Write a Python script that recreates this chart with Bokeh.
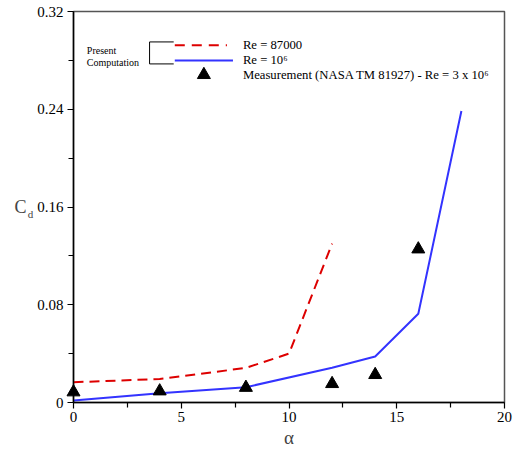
from bokeh.plotting import figure
from bokeh.models import Range1d, FixedTicker, Label, LinearAxis
from bokeh.embed import file_html
from bokeh.resources import INLINE

# --- data -----------------------------------------------------------
alpha_re87k = [0, 4, 8, 10, 12]
cd_re87k = [0.0166, 0.0192, 0.0283, 0.0400, 0.1300]

alpha_re1e6 = [0, 4, 8, 12, 14, 16, 18]
cd_re1e6 = [0.0016, 0.0076, 0.0125, 0.0285, 0.0377, 0.0726, 0.2385]

alpha_meas = [0, 4, 8, 12, 14, 16]
cd_meas = [0.0085, 0.0093, 0.0122, 0.0153, 0.0227, 0.1255]

x_ticks = [0, 5, 10, 15, 20]
y_ticks = [0, 0.08, 0.16, 0.24, 0.32]
y_tick_labels = {0: "0", 0.08: "0.08", 0.16: "0.16", 0.24: "0.24", 0.32: "0.32"}

legend_labels = ["Re = 87000", "Re = 10\u2076", "Measurement (NASA TM 81927) - Re = 3 x 10\u2076"]

FONT = "Liberation Serif"
RED = "#dd0000"
BLUE = "#3333ff"

p = figure(width=516, height=451, output_backend="svg", toolbar_location=None,
           x_range=Range1d(0, 20), y_range=Range1d(0, 0.32),
           min_border_left=73, min_border_right=12, min_border_top=11, min_border_bottom=49)
p.background_fill_color = "white"
p.border_fill_color = "white"
p.outline_line_color = "#555555"
p.outline_line_width = 1.5
p.xgrid.visible = False
p.ygrid.visible = False

for ax in (p.xaxis[0], p.yaxis[0]):
    ax.axis_line_color = "black"
    ax.axis_line_width = 1.5
    ax.major_tick_line_color = "black"
    ax.minor_tick_line_color = "black"
    ax.major_tick_line_width = 1.2
    ax.minor_tick_line_width = 1.2
    ax.major_tick_out = 6
    ax.major_tick_in = 0
    ax.minor_tick_out = 5
    ax.minor_tick_in = 0
    ax.major_label_text_font = FONT
    ax.major_label_text_font_size = "15px"
    ax.major_label_text_color = "black"

p.xaxis.ticker = FixedTicker(ticks=x_ticks, minor_ticks=[2.5, 7.5, 12.5, 17.5])
p.yaxis.ticker = FixedTicker(ticks=y_ticks, minor_ticks=[0.04, 0.12, 0.2, 0.28])
p.yaxis.major_label_overrides = y_tick_labels
p.yaxis.major_label_standoff = 4
p.xaxis.major_label_standoff = 3

p.xaxis.axis_label = "\u03b1"
p.xaxis.axis_label_text_font = FONT
p.xaxis.axis_label_text_font_style = "normal"
p.xaxis.axis_label_text_font_size = "19px"
p.xaxis.axis_label_standoff = 2

# y label: subscript "d" next to the tick labels, "C" on an outer label-only axis
yax = p.yaxis[0]
yax.axis_label = "\nd"
yax.axis_label_orientation = "horizontal"
yax.axis_label_text_font = FONT
yax.axis_label_text_font_style = "normal"
yax.axis_label_text_font_size = "11px"
yax.axis_label_standoff = 1

cax = LinearAxis(ticker=FixedTicker(ticks=[]), axis_line_color=None,
                 major_tick_line_color=None, minor_tick_line_color=None,
                 axis_label="C", axis_label_orientation="horizontal",
                 axis_label_text_font=FONT, axis_label_text_font_style="normal",
                 axis_label_text_font_size="18px", axis_label_standoff=-2,
                 major_label_text_font_size="0px")
p.add_layout(cax, "left")

# --- series ---------------------------------------------------------
p.line(alpha_re87k, cd_re87k, line_color=RED, line_width=2, line_dash="10 6")
p.line(alpha_re1e6, cd_re1e6, line_color=BLUE, line_width=2)
p.scatter(alpha_meas, cd_meas, marker="triangle", size=13, fill_color="black", line_color="black",
          level="overlay")

# --- custom legend --------------------------------------------------
p.add_layout(Label(x=0.62, y=0.2877, text="Present", text_font=FONT, text_font_size="10px",
                   text_baseline="middle", text_color="black"))
p.add_layout(Label(x=0.62, y=0.2785, text="Computation", text_font=FONT, text_font_size="10px",
                   text_baseline="middle", text_color="black"))
p.line([4.65, 3.53, 3.53, 4.65], [0.2951, 0.2951, 0.2771, 0.2771], line_color="black", line_width=1)
p.line([4.70, 7.12], [0.2924, 0.2924], line_color=RED, line_width=2, line_dash="10 7")
p.line([4.70, 7.40], [0.2799, 0.2799], line_color=BLUE, line_width=2)
p.scatter([6.05], [0.2682], marker="triangle", size=13, fill_color="black", line_color="black")
for yy, txt in zip([0.2924, 0.2799, 0.2682], legend_labels):
    p.add_layout(Label(x=7.86, y=yy, text=txt, text_font=FONT, text_font_size="12.7px",
                       text_baseline="middle", text_color="black"))

open("out.html", "w").write(file_html(p, INLINE))
